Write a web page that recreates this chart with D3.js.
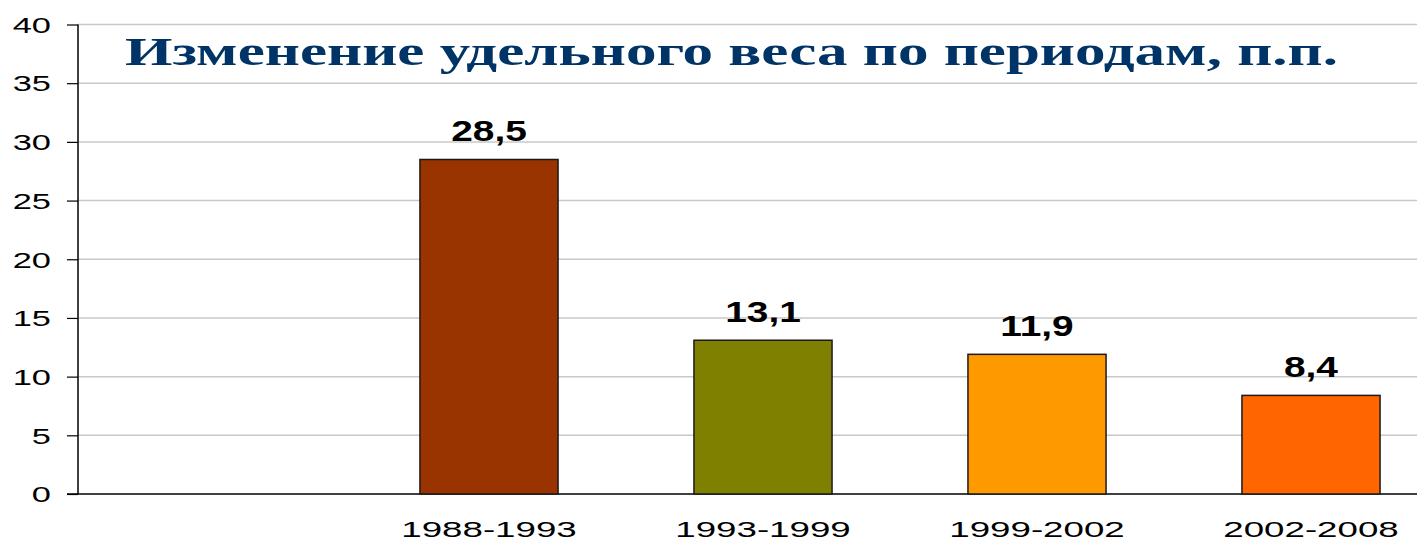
<!DOCTYPE html>
<html><head><meta charset="utf-8">
<script src="https://cdn.jsdelivr.net/npm/d3@7"></script>
<style>body{margin:0;background:#fff}svg{display:block}</style>
</head><body>
<svg id="c" width="1417" height="541"></svg>
<script>
const categories = ["", "1988-1993", "1993-1999", "1999-2002", "2002-2008"];
const values = [null, 28.5, 13.1, 11.9, 8.4];
const valueLabels = ["", "28,5", "13,1", "11,9", "8,4"];
const colors = ["none", "#993300", "#808000", "#FF9900", "#FF6600"];
const yTicks = [0, 5, 10, 15, 20, 25, 30, 35, 40];
const title = "Изменение удельного веса по периодам, п.п.";

const svg = d3.select("#c");
const x = d3.scaleBand().domain(categories.map((c,i)=>i)).range([78, 1448]).paddingInner(0.496).paddingOuter(0.248);
const y = d3.scaleLinear().domain([0, 40]).range([494, 24.5]);

function stretch(sel, k){
  sel.each(function(){
    const w = this.getComputedTextLength();
    this.setAttribute("textLength", w*k);
    this.setAttribute("lengthAdjust", "spacingAndGlyphs");
  });
}

// gridlines
svg.append("g").selectAll("line").data(yTicks.filter(d=>d>0)).join("line")
  .attr("x1", 78).attr("x2", 1417).attr("y1", d=>y(d)).attr("y2", d=>y(d))
  .attr("stroke", "#c8c8c8").attr("stroke-width", 1.5);

// y axis
const yAxis = svg.append("g").attr("transform","translate(78,0)")
  .call(d3.axisLeft(y).tickValues(yTicks).tickSize(11).tickPadding(17));
yAxis.select(".domain").attr("stroke","#000").attr("stroke-width",1.5).attr("d","M0,24.5V494");
yAxis.selectAll(".tick line").attr("stroke","#000").attr("stroke-width",1.2);
yAxis.selectAll(".tick text").attr("font-family","Liberation Sans, Arial, sans-serif")
  .attr("font-size",21.5).attr("fill","#000").attr("dy","0.36em").attr("x",-27);
stretch(yAxis.selectAll(".tick text"), 1.6);

// x axis line
svg.append("line").attr("x1",67).attr("x2",1417).attr("y1",y(0)).attr("y2",y(0))
  .attr("stroke","#000").attr("stroke-width",1.5);

// bars
const idx = categories.map((c,i)=>i).filter(i=>values[i]!=null);
svg.append("g").selectAll("rect").data(idx).join("rect")
  .attr("x", i=>x(i)).attr("width", x.bandwidth())
  .attr("y", i=>y(values[i])).attr("height", i=>y(0)-y(values[i]))
  .attr("fill", i=>colors[i]).attr("stroke","#1a1a1a").attr("stroke-width",1.5);

// value labels
const vl = svg.append("g").selectAll("text").data(idx).join("text")
  .attr("x", i=>x(i)+x.bandwidth()/2).attr("y", i=>y(values[i])-18)
  .attr("text-anchor","middle").attr("font-family","Liberation Sans, Arial, sans-serif")
  .attr("font-weight","bold").attr("font-size",29).attr("fill","#000")
  .text(i=>valueLabels[i]);
stretch(vl, 1.34);

// category labels
const cl = svg.append("g").selectAll("text").data(idx).join("text")
  .attr("x", i=>x(i)+x.bandwidth()/2).attr("y", 537)
  .attr("text-anchor","middle").attr("font-family","Liberation Sans, Arial, sans-serif")
  .attr("font-size",22.5).attr("fill","#000")
  .text(i=>categories[i]);
stretch(cl, 1.63);

// title
svg.append("text").attr("x",125).attr("y",65)
  .attr("font-family","Liberation Serif, Times New Roman, serif").attr("font-weight","bold")
  .attr("font-size",41).attr("fill","#003366")
  .attr("textLength",1213).attr("lengthAdjust","spacingAndGlyphs")
  .text(title);
</script>
</body></html>
